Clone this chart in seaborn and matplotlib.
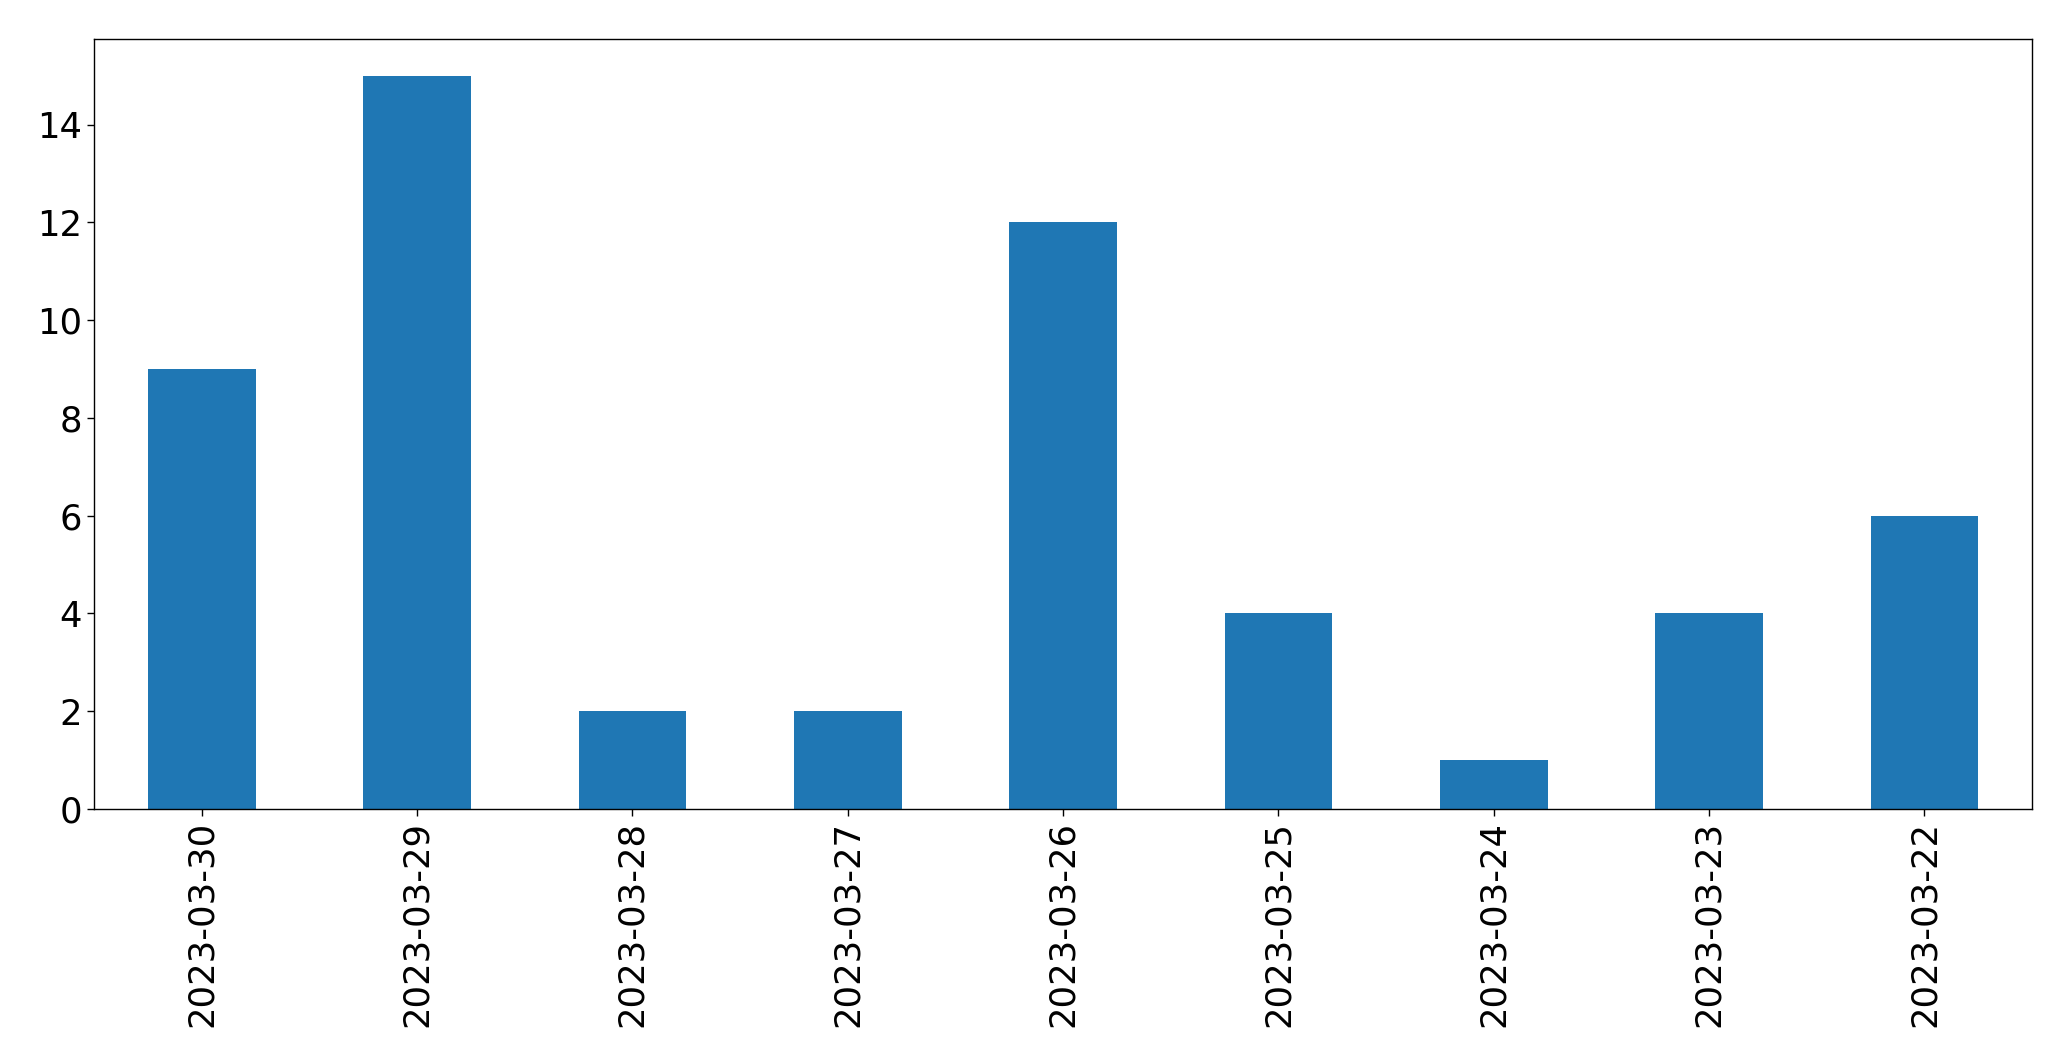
import matplotlib
matplotlib.use("Agg")
import matplotlib.pyplot as plt
import seaborn as sns
import pandas as pd

dates = ["2023-03-30", "2023-03-29", "2023-03-28", "2023-03-27", "2023-03-26",
         "2023-03-25", "2023-03-24", "2023-03-23", "2023-03-22"]
counts = [9, 15, 2, 2, 12, 4, 1, 4, 6]

df = pd.DataFrame({"date": dates, "count": counts})

plt.rcParams['font.family'] = ['DejaVu Sans']
plt.rcParams['text.color'] = 'black'
plt.rcParams['xtick.color'] = 'black'
plt.rcParams['ytick.color'] = 'black'
plt.rcParams['axes.edgecolor'] = 'black'

fig, ax = plt.subplots(figsize=(20.71, 10.61), dpi=100)
fig.subplots_adjust(left=0.0454, right=0.9812, top=0.9632, bottom=0.2375)
sns.barplot(data=df, x="date", y="count", order=dates, color="#1f77b4",
            saturation=1, width=0.5, linewidth=0, ax=ax)
ax.set_xlim(-0.5, len(dates) - 0.5)
ax.set_ylim(0, 15.75)
ax.set_xlabel("")
ax.set_ylabel("")
ax.tick_params(axis="x", labelrotation=90, labelsize=25.5, length=5, width=1)
ax.tick_params(axis="y", labelsize=25.5, length=5, width=1)
for s in ax.spines.values():
    s.set_visible(True)
    s.set_linewidth(1)
    s.set_color("black")
fig.savefig("out.png", dpi=100, facecolor="white")
